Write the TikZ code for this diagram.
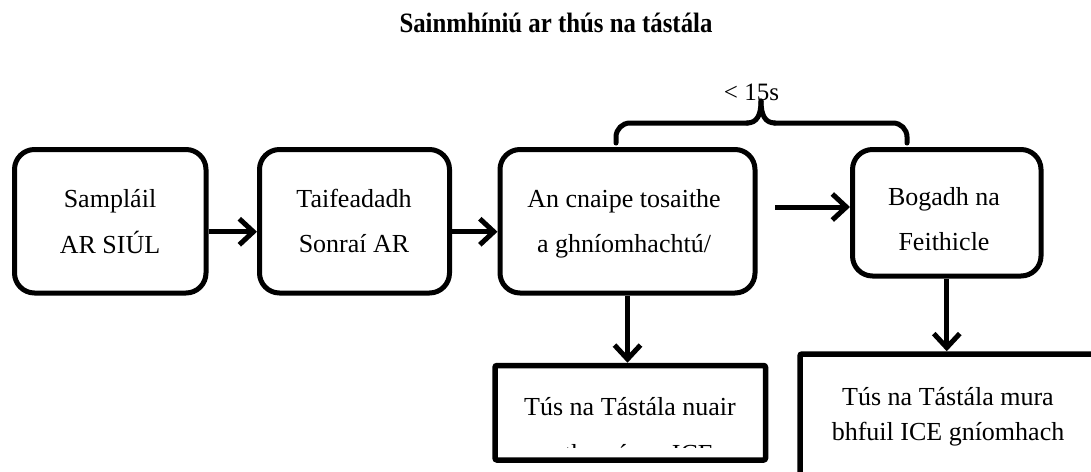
\documentclass[tikz,border=0pt]{standalone}
\usepackage{fontspec}
\usepackage{graphicx}
\setmainfont{Liberation Serif}
\usetikzlibrary{arrows.meta}
\tikzset{
  box/.style={draw, line width=5pt, rounded corners=20pt, inner sep=0pt},
  sqbox/.style={draw, line width=5.5pt, rounded corners=2pt, inner sep=0pt},
  txt/.style={inner sep=0pt, anchor=base},
  conn/.style={line width=5pt, -{Straight Barb[length=14pt,width=26pt]}},
  bracestyle/.style={line width=5pt, line cap=round, line join=round},
}
\newcommand{\twolines}[2]{\parbox[t]{320pt}{\centering\fontsize{26}{#1}\selectfont #2}}
\begin{document}
\begin{tikzpicture}[x=1pt,y=-1pt]
\useasboundingbox (0,0) rectangle (1091,471);
\fill[white] (0,0) rectangle (1091,471);
% title
\node[txt, font=\fontsize{28}{32}\selectfont\bfseries] (title) at (556,32) {\scalebox{0.886}[1]{Sainmhíniú ar thús na tástála}};
% boxes
\node[box, minimum width=191.5pt, minimum height=143.5pt] (b1) at (110.25,221.25) {};
\node[box, minimum width=190pt, minimum height=143.5pt] (b2) at (354.5,221.25) {};
\node[box, minimum width=255pt, minimum height=143.5pt] (b3) at (627.5,221.25) {};
\node[box, minimum width=188.5pt, minimum height=126.5pt] (b4) at (946.75,212.75) {};
\node[sqbox, minimum width=270.5pt, minimum height=94.5pt] (b5) at (630.25,412.75) {};
\node[sqbox, minimum width=330pt, minimum height=166pt] (b6) at (965,437) {};
% texts
\node[txt] (b1t) at (110,207) {\twolines{46}{Sampláil\\AR SIÚL}};
\node[txt] (b2t) at (354,207) {\twolines{45.5}{Taifeadadh\\Sonraí AR}};
\node[txt] (b3t) at (624,207) {\twolines{45}{An cnaipe tosaithe\\a ghníomhachtú/}};
\node[txt] (b4t) at (944,205) {\twolines{45}{Bogadh na\\Feithicle}};
\begin{scope}
  \clip (495,368) rectangle (765,447);
  \node[txt] (b5t) at (630,415) {\twolines{47}{Tús na Tástála nuair\\a thosaíonn ICE}};
\end{scope}
\node[txt] (b6t) at (948,405) {\twolines{35}{Tús na Tástála mura\\bhfuil ICE gníomhach}};
% brace and label
\node[txt, font=\fontsize{25}{30}\selectfont] (lim) at (751.5,100) {< 15s};
\draw[bracestyle, rounded corners=14pt] (616,143) -- (616,123) -- (748,123);
\draw[bracestyle] (747,123) .. controls (757,123) and (761,115) .. (761,101);
\draw[bracestyle] (761,101) .. controls (761,115) and (765,123) .. (775,123);
\draw[bracestyle, rounded corners=14pt] (774,123) -- (907,123) -- (907,143);
% connectors
\draw[conn] ([yshift=-10.5pt]b1.east) -- ([yshift=-10.5pt]b2.west);
\draw[conn] ([yshift=-10.5pt]b2.east) -- ([yshift=-10.5pt]b3.west);
\coordinate (a3s) at (775,207);
\draw[conn] (a3s) -- (a3s -| b4.west);
\draw[conn] (b3.south) -- (b3.south |- b5.north);
\draw[conn] (b4.south) -- (b4.south |- b6.north);
\end{tikzpicture}
\end{document}
